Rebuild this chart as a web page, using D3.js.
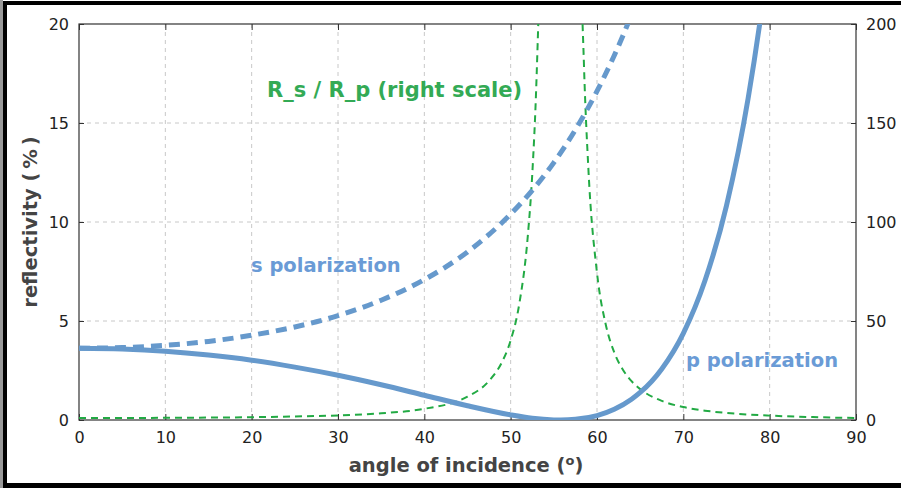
<!DOCTYPE html>
<html>
<head>
<meta charset="utf-8">
<script src="https://cdn.jsdelivr.net/npm/d3@7"></script>
<style>
  html, body { margin: 0; padding: 0; background: #fff; }
  svg { display: block; }
  .tick text { font-family: "DejaVu Sans", Verdana, sans-serif; font-size: 16px; fill: #222; }
</style>
</head>
<body>
<div id="chart"></div>
<script>
// --- data ---
const sAngles = [0, 5, 10, 15, 20, 25, 30, 35, 40, 45, 50, 52.5, 55, 57.5, 60, 62, 64, 65];
const sValues = [3.62, 3.66, 3.77, 3.97, 4.28, 4.70, 5.27, 6.05, 7.09, 8.49, 10.40, 11.60, 13.00, 14.66, 16.61, 18.41, 20.48, 21.62];

const pAngles = [0, 5, 10, 15, 20, 25, 30, 35, 40, 45, 50, 52.5, 55, 55.8, 57.5, 60, 62, 64, 65, 67.5, 70, 72.5, 75, 77.5, 79, 80];
const pValues = [3.62, 3.58, 3.47, 3.28, 3.02, 2.67, 2.26, 1.78, 1.25, 0.72, 0.26, 0.09, 0.006, 0, 0.033, 0.22, 0.54, 1.05, 1.39, 2.58, 4.38, 7.03, 10.83, 16.23, 20.48, 23.8];

const ratioAngles = [0, 5, 10, 15, 20, 25, 30, 35, 40, 45, 47.5, 49, 50, 51, 52, 52.5, 53, 53.5, 54, 57, 58, 58.5, 59, 60, 61, 62, 63, 64, 65, 67.5, 70, 72.5, 75, 77.5, 80, 85, 90];
const ratioValues = [1.0, 1.02, 1.09, 1.21, 1.42, 1.76, 2.33, 3.40, 5.66, 11.8, 19.8, 29.3, 40.2, 58.7, 93.7, 124, 173, 258, 423, 881, 267, 178, 127, 74.3, 48.5, 34.1, 25.4, 19.6, 15.6, 9.63, 6.54, 4.72, 3.56, 2.77, 2.21, 1.46, 1.0];

const xTicks = [0, 10, 20, 30, 40, 50, 60, 70, 80, 90];
const yLeftTicks = [0, 5, 10, 15, 20];
const yRightTicks = [0, 50, 100, 150, 200];

// --- layout ---
const W = 901, H = 488;
const margin = { top: 24, right: 45, bottom: 68, left: 79 };
const width = W - margin.left - margin.right;
const height = H - margin.top - margin.bottom;

const blue = "#6699cc";
const green = "#22aa44";
const font = '"DejaVu Sans", Verdana, sans-serif';

const svg = d3.select("#chart").append("svg")
    .attr("width", W)
    .attr("height", H);

// outer frame (left, top, bottom)
svg.append("rect").attr("x", 0).attr("y", 0).attr("width", 3).attr("height", H).attr("fill", "#999");
svg.append("rect").attr("x", 3).attr("y", 1).attr("width", 4).attr("height", H - 1).attr("fill", "#000");
svg.append("rect").attr("x", 3).attr("y", 1).attr("width", W - 3).attr("height", 4).attr("fill", "#000");
svg.append("rect").attr("x", 3).attr("y", H - 5).attr("width", W - 3).attr("height", 5).attr("fill", "#000");

const g = svg.append("g")
    .attr("transform", `translate(${margin.left},${margin.top})`);

// --- scales ---
const x = d3.scaleLinear().domain([0, 90]).range([0, width]);
const yL = d3.scaleLinear().domain([0, 20]).range([height, 0]);
const yR = d3.scaleLinear().domain([0, 200]).range([height, 0]);

// --- grid ---
g.append("g")
    .selectAll("line")
    .data(xTicks.slice(1, -1))
    .join("line")
    .attr("x1", d => x(d)).attr("x2", d => x(d))
    .attr("y1", 0).attr("y2", height)
    .attr("stroke", "#c8c8c8").attr("stroke-dasharray", "4,4");

g.append("g")
    .selectAll("line")
    .data(yLeftTicks.slice(1, -1))
    .join("line")
    .attr("x1", 0).attr("x2", width)
    .attr("y1", d => yL(d)).attr("y2", d => yL(d))
    .attr("stroke", "#c8c8c8").attr("stroke-dasharray", "4,4");

// --- axes ---
const styleAxis = a => a.call(s => s.select(".domain").remove())
    .call(s => s.selectAll(".tick line").attr("stroke", "#333"));

g.append("g")
    .attr("transform", `translate(0,${height})`)
    .call(d3.axisBottom(x).tickValues(xTicks).tickSizeInner(-6).tickSizeOuter(0).tickPadding(12))
    .call(styleAxis);

g.append("g")
    .call(d3.axisTop(x).tickValues(xTicks).tickSizeInner(-6).tickSizeOuter(0).tickFormat(""))
    .call(styleAxis);

g.append("g")
    .call(d3.axisLeft(yL).tickValues(yLeftTicks).tickSizeInner(-5).tickSizeOuter(0).tickPadding(10))
    .call(styleAxis);

g.append("g")
    .attr("transform", `translate(${width},0)`)
    .call(d3.axisRight(yR).tickValues(yRightTicks).tickSizeInner(-5).tickSizeOuter(0).tickPadding(10))
    .call(styleAxis);

// plot box
g.append("rect")
    .attr("width", width).attr("height", height)
    .attr("fill", "none").attr("stroke", "#333").attr("stroke-width", 1.2);

// --- curves ---
g.append("clipPath").attr("id", "clip")
    .append("rect").attr("width", width).attr("height", height);

const plot = g.append("g").attr("clip-path", "url(#clip)");

const lineL = d3.line().x(d => x(d[0])).y(d => yL(d[1])).curve(d3.curveMonotoneX);
const lineR = d3.line().x(d => x(d[0])).y(d => yR(d[1])).curve(d3.curveMonotoneX);

plot.append("path")
    .datum(d3.zip(ratioAngles, ratioValues))
    .attr("d", lineR)
    .attr("fill", "none")
    .attr("stroke", green)
    .attr("stroke-width", 2)
    .attr("stroke-dasharray", "7,5");

plot.append("path")
    .datum(d3.zip(pAngles, pValues))
    .attr("d", lineL)
    .attr("fill", "none")
    .attr("stroke", blue)
    .attr("stroke-width", 5);

plot.append("path")
    .datum(d3.zip(sAngles, sValues))
    .attr("d", lineL)
    .attr("fill", "none")
    .attr("stroke", blue)
    .attr("stroke-width", 5)
    .attr("stroke-dasharray", "11,7");

// --- labels ---
const label = (px, py, color, txt, size) => svg.append("text")
    .attr("x", px).attr("y", py)
    .attr("fill", color)
    .style("font-family", font).style("font-size", size).style("font-weight", "bold")
    .text(txt);

label(267, 97, "#33aa55", "R_s / R_p (right scale)", "21px");
label(251, 272, "#6a9bd6", "s polarization", "19.5px");
label(686, 367, "#6a9bd6", "p polarization", "19.5px");

const xt = svg.append("text")
    .attr("x", 466).attr("y", 472)
    .attr("fill", "#444")
    .style("font-family", font).style("font-size", "19.5px").style("font-weight", "bold")
    .attr("text-anchor", "middle");
xt.append("tspan").text("angle of incidence (");
xt.append("tspan").attr("dy", -7).style("font-size", "13px").text("o");
xt.append("tspan").attr("dy", 7).text(")");

svg.append("text")
    .attr("transform", "translate(37,222) rotate(-90)")
    .attr("fill", "#444")
    .style("font-family", font).style("font-size", "19.5px").style("font-weight", "bold")
    .attr("text-anchor", "middle")
    .text("reflectivity (\u2009%\u2009)");
</script>
</body>
</html>
